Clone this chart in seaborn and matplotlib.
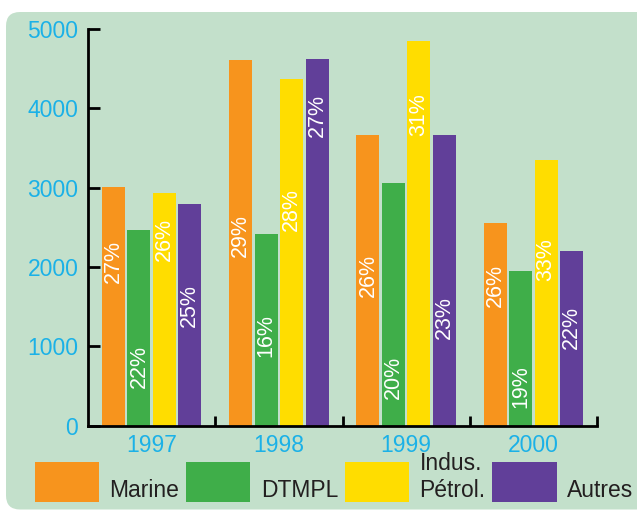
import matplotlib
matplotlib.use("Agg")
import matplotlib.pyplot as plt
import seaborn as sns
import pandas as pd
from matplotlib.patches import FancyBboxPatch
from matplotlib.ticker import FixedLocator

# ---- data ----
years = ["1997", "1998", "1999", "2000"]
series = ["Marine", "DTMPL", "Indus.\nPétrol.", "Autres"]
marine = [3010, 4610, 3670, 2560]
dtmpl = [2470, 2420, 3060, 1950]
indus = [2930, 4370, 4850, 3350]
autres = [2800, 4620, 3670, 2200]
marine_pct = ["27%", "29%", "26%", "26%"]
dtmpl_pct = ["22%", "16%", "20%", "19%"]
indus_pct = ["26%", "28%", "31%", "33%"]
autres_pct = ["25%", "27%", "23%", "22%"]
yticks = [0, 1000, 2000, 3000, 4000, 5000]

# ---- layout (label centre heights, data units) ----
label_pos = [
    [2064, 2392, 1888, 1762],
    [747, 1131, 608, 492],
    [2342, 2720, 3918, 2090],
    [1516, 3905, 1364, 1238],
]

colors = ["#F7941D", "#3FAE49", "#FFDD00", "#613F99"]
cyan = "#1BB1E7"
dark = "#231F20"

values = [marine, dtmpl, indus, autres]
pcts = [marine_pct, dtmpl_pct, indus_pct, autres_pct]
rows = []
for s, vals in zip(series, values):
    for y, v in zip(years, vals):
        rows.append({"year": y, "series": s, "value": v})
df = pd.DataFrame(rows)

sns.set_theme(style="white")
plt.rcParams["font.family"] = ["Liberation Sans", "DejaVu Sans"]

fig = plt.figure(figsize=(6.37, 5.11), dpi=100)
fig.patch.set_facecolor("white")

panel = FancyBboxPatch((0.06, 0.015), 6.6, 4.975,
                       boxstyle="round,pad=0,rounding_size=0.14",
                       transform=fig.dpi_scale_trans,
                       facecolor="#C3E0CB", edgecolor="none", zorder=-1)
fig.patches.append(panel)

ax = fig.add_axes([88 / 637, (511 - 425.7) / 511, (597 - 88) / 637, (425.7 - 29) / 511])
ax.set_facecolor("none")

sns.barplot(data=df, x="year", y="value", hue="series", hue_order=series,
            order=years, palette=colors, width=0.8, gap=0.1,
            linewidth=0, saturation=1, ax=ax)

for i, cont in enumerate(ax.containers):
    for j, bar in enumerate(cont):
        cx = bar.get_x() + bar.get_width() / 2
        ax.text(cx, label_pos[i][j], pcts[i][j], rotation=90, color="white",
                ha="center", va="center", fontsize=15.5)

ax.set_ylim(0, 5000)
ax.set_xlim(-0.5, 3.5)
ax.set_yticks(yticks)
ax.set_yticklabels([str(t) for t in yticks])
ax.set_xlabel("")
ax.set_ylabel("")

for side in ["top", "right"]:
    ax.spines[side].set_visible(False)
for side in ["left", "bottom"]:
    ax.spines[side].set_visible(True)
    ax.spines[side].set_color("black")
    ax.spines[side].set_linewidth(2)

ax.tick_params(axis="y", direction="in", length=8.5, width=2, color="black",
               labelcolor=cyan, labelsize=16.5, pad=7, left=True)
ax.tick_params(axis="x", which="major", length=0, labelcolor=cyan,
               labelsize=16.5, pad=6, bottom=True)
ax.xaxis.set_minor_locator(FixedLocator([0.5, 1.5, 2.5, 3.5]))
ax.tick_params(axis="x", which="minor", direction="in", length=7, width=2,
               color="black", bottom=True)

handles, labels = ax.get_legend_handles_labels()
if ax.get_legend() is not None:
    ax.get_legend().remove()
leg = fig.legend(handles, labels, loc="lower left",
                 bbox_to_anchor=(35 / 637, 9 / 511), ncol=4, frameon=False,
                 fontsize=16.5, handlelength=2.8, handleheight=2.3,
                 handletextpad=0.45, columnspacing=0.3, borderpad=0,
                 borderaxespad=0, labelcolor=dark)
# align legend labels with the bottom of their colour boxes
for col in leg._legend_handle_box.get_children():
    for item in col.get_children():
        item.align = "bottom"

fig.savefig("out.png", dpi=100)
